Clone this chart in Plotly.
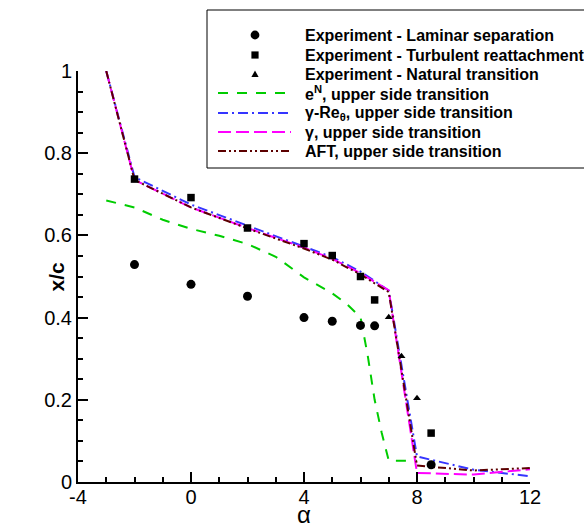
import plotly.graph_objects as go

# ---- experimental data ----
alpha_exp = [-2, 0, 2, 4, 5, 6, 6.5, 8.5]
laminar_sep = [0.529, 0.481, 0.452, 0.400, 0.391, 0.381, 0.380, 0.042]
turb_reattach = [0.737, 0.692, 0.618, 0.580, 0.551, 0.500, 0.443, 0.119]
alpha_nat = [7, 7.45, 8]
natural_trans = [0.401, 0.306, 0.204]

# ---- computed upper side transition ----
alpha_en = [-3, -2, -1, 0, 1, 2, 3, 4, 5, 5.5, 6, 6.25, 6.5, 6.75, 7, 8]
eN_trans = [0.685, 0.668, 0.638, 0.616, 0.599, 0.579, 0.548, 0.498, 0.459,
            0.434, 0.401, 0.31, 0.20, 0.12, 0.052, 0.052]

alpha_cfd = [-3, -2, 0, 2, 4, 5, 6, 7, 8, 10, 12]
gamma_re_trans = [1.0, 0.742, 0.675, 0.624, 0.574, 0.547, 0.512, 0.466, 0.062, 0.030, 0.014]
gamma_trans = [1.0, 0.735, 0.668, 0.618, 0.570, 0.543, 0.508, 0.466, 0.022, 0.018, 0.031]
aft_trans = [1.0, 0.735, 0.668, 0.617, 0.568, 0.541, 0.505, 0.462, 0.040, 0.028, 0.034]

x_ticks = [-4, 0, 4, 8, 12]
x_ticktext = ["-4", "0", "4", "8", "12"]
y_ticks = [0, 0.2, 0.4, 0.6, 0.8, 1]
y_ticktext = ["0", "0.2", "0.4", "0.6", "0.8", "1"]

legend_labels = [
    "Experiment - Laminar separation",
    "Experiment - Turbulent reattachment",
    "Experiment - Natural transition",
    "e<sup>N</sup>, upper side transition",
    "γ-Re<sub>θ</sub>, upper side transition",
    "γ, upper side transition",
    "AFT, upper side transition",
]

GREEN = "#00cc00"
BLUE = "#3535ff"
MAGENTA = "#ff00ff"
MAROON = "#5c0000"
FONT = "Liberation Sans, Arial, Helvetica, sans-serif"

line_styles = [
    (GREEN, "10px,9px"),
    (BLUE, "10px,4px,2px,4px"),
    (MAGENTA, "13px,5px"),
    (MAROON, "8px,3px,2px,3px,2px,3px"),
]

# figure / plot-area geometry in pixels
FW, FH = 584, 527
L, T, W, H = 78, 71, 452, 411


def px(x):
    return (x - L) / W


def py(y):
    return (T + H - y) / H


fig = go.Figure()

fig.add_trace(go.Scatter(x=alpha_en, y=eN_trans, mode="lines",
                         line=dict(color=GREEN, width=2, dash=line_styles[0][1])))
fig.add_trace(go.Scatter(x=alpha_cfd, y=gamma_re_trans, mode="lines",
                         line=dict(color=BLUE, width=2, dash=line_styles[1][1])))
fig.add_trace(go.Scatter(x=alpha_cfd, y=gamma_trans, mode="lines",
                         line=dict(color=MAGENTA, width=2, dash=line_styles[2][1])))
fig.add_trace(go.Scatter(x=alpha_cfd, y=aft_trans, mode="lines",
                         line=dict(color=MAROON, width=2, dash=line_styles[3][1])))

fig.add_trace(go.Scatter(x=alpha_exp, y=laminar_sep, mode="markers",
                         marker=dict(symbol="circle", size=9, color="black")))
fig.add_trace(go.Scatter(x=alpha_exp, y=turb_reattach, mode="markers",
                         marker=dict(symbol="square", size=7.5, color="black")))
fig.add_trace(go.Scatter(x=alpha_nat, y=natural_trans, mode="markers",
                         marker=dict(symbol="triangle-up", size=7, color="black")))

# ---- legend box drawn by hand ----
shapes = [dict(type="rect", xref="paper", yref="paper",
               x0=px(207), x1=px(600), y0=py(168), y1=py(10),
               line=dict(color="black", width=1), fillcolor="rgba(0,0,0,0)")]

rows = [35, 55, 74, 93, 113, 132, 151]
mx = 255
# circle
r = 4.4
shapes.append(dict(type="circle", xref="paper", yref="paper",
                   x0=px(mx - r), x1=px(mx + r), y0=py(rows[0] + r), y1=py(rows[0] - r),
                   fillcolor="black", line=dict(width=0)))
# square
s = 3.6
shapes.append(dict(type="rect", xref="paper", yref="paper",
                   x0=px(mx - s), x1=px(mx + s), y0=py(rows[1] + s), y1=py(rows[1] - s),
                   fillcolor="black", line=dict(width=0)))
# triangle
ty = rows[2]
shapes.append(dict(type="path", xref="paper", yref="paper",
                   path=f"M {px(mx - 3.6)},{py(ty + 3)} L {px(mx + 3.6)},{py(ty + 3)} "
                        f"L {px(mx)},{py(ty - 3.5)} Z",
                   fillcolor="black", line=dict(width=0)))
for (color, dash), yy in zip(line_styles, rows[3:]):
    shapes.append(dict(type="line", xref="paper", yref="paper",
                       x0=px(218), x1=px(291), y0=py(yy), y1=py(yy),
                       line=dict(color=color, width=2, dash=dash)))

annotations = []
for label, yy in zip(legend_labels, rows):
    annotations.append(dict(text=label, xref="paper", yref="paper",
                            x=px(303), y=py(yy), xanchor="left", yanchor="middle",
                            showarrow=False,
                            font=dict(family=FONT, size=16, color="black", weight="bold")))

# axis titles
annotations.append(dict(text="α", xref="paper", yref="paper", x=0.5, y=py(514),
                        xanchor="center", yanchor="middle", showarrow=False,
                        font=dict(family=FONT, size=24, color="black")))
annotations.append(dict(text="x/c", xref="paper", yref="paper", x=px(56), y=0.5,
                        xanchor="center", yanchor="middle", showarrow=False, textangle=-90,
                        font=dict(family=FONT, size=21, color="black", weight="bold")))

axis_common = dict(showgrid=False, zeroline=False, showline=True, linecolor="black",
                   linewidth=2, ticks="inside", ticklen=10, tickwidth=2, tickcolor="black",
                   mirror=False,
                   tickfont=dict(family=FONT, size=20, color="black"))

fig.update_layout(
    width=FW, height=FH,
    margin=dict(l=L, r=FW - L - W, t=T, b=FH - T - H),
    paper_bgcolor="white", plot_bgcolor="white",
    showlegend=False,
    xaxis=dict(range=[-4, 12], tickvals=x_ticks, ticktext=x_ticktext,
               ticklabelstandoff=-4,
               minor=dict(ticks="inside", ticklen=5, tickwidth=1.5, dtick=1,
                          tickcolor="black", showgrid=False),
               **axis_common),
    yaxis=dict(range=[0, 1], tickvals=y_ticks, ticktext=y_ticktext,
               minor=dict(ticks="inside", ticklen=5, tickwidth=1.5, dtick=0.05,
                          tickcolor="black", showgrid=False),
               **axis_common),
    shapes=shapes,
    annotations=annotations,
)

fig.write_html("out.html")
